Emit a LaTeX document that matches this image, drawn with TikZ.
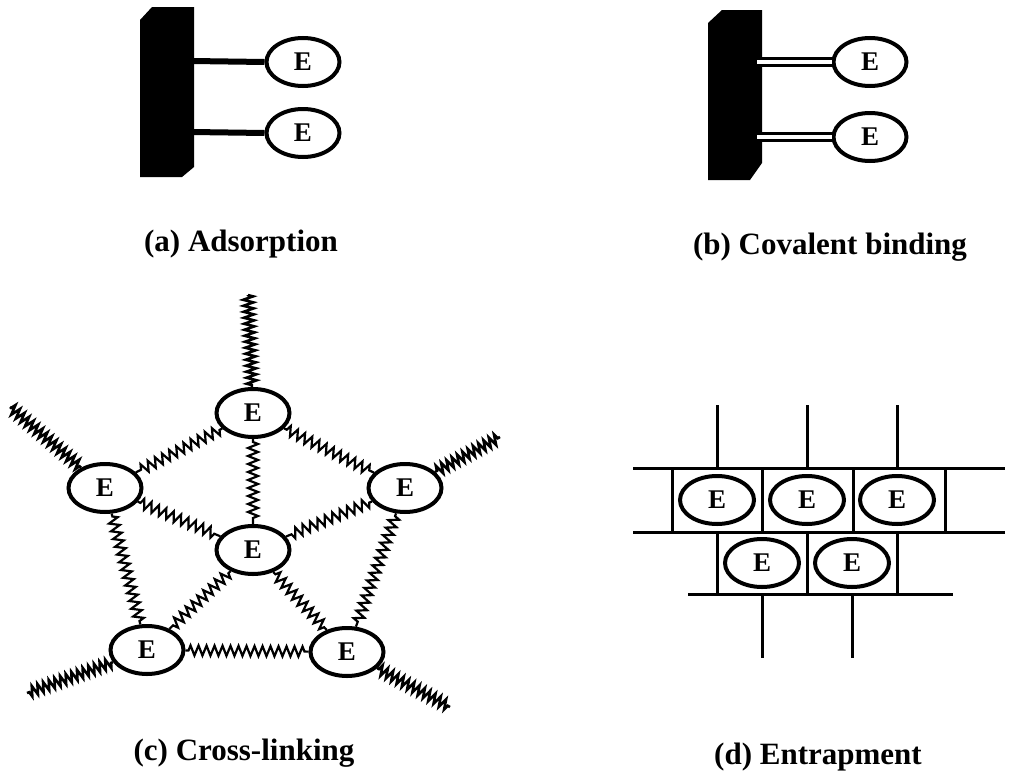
\documentclass[tikz,border=0pt]{standalone}
\usepackage{fontspec}
\setmainfont{Liberation Serif}
\usetikzlibrary{shapes.geometric,decorations.pathmorphing}
\tikzset{
  enz/.style={ellipse,draw,line width=4pt,minimum width=73pt,minimum height=48pt,inner sep=0pt,font=\bfseries\fontsize{27}{27}\selectfont},
  lab/.style={anchor=base,font=\bfseries\fontsize{31}{31}\selectfont},
  stick/.style={line width=6pt},
  cov/.style={draw=black,line width=3pt,double=white,double distance=4pt},
  spring/.style={line width=2.2pt,decorate,decoration={zigzag,segment length=8pt,amplitude=5pt,pre length=3pt,post length=3pt}},
  outspring/.style={line width=2.6pt,decorate,decoration={zigzag,segment length=6pt,amplitude=5pt,pre length=2pt,post length=0pt}},
  grid/.style={line width=3pt}
}
\begin{document}
\begin{tikzpicture}[x=1pt,y=-1pt]
\useasboundingbox (0,0) rectangle (1009,779);
% (a) Adsorption
\fill (140,20) -- (152,7) -- (194,7) -- (194,167) -- (182,177) -- (140,177) -- cycle;
\coordinate (a1) at (192,61);
\coordinate (a2) at (192,132);
\node[enz] (ea1) at (303,62) {E};
\node[enz] (ea2) at (303,133) {E};
\draw[stick] (a1) -- (ea1.west);
\draw[stick] (a2) -- (ea2.west);
\node[lab] (la) at (241,251) {(a) Adsorption};
% (b) Covalent binding
\fill (708,23) -- (722,10) -- (762,10) -- (762,163) -- (750,180) -- (708,180) -- cycle;
\coordinate (b1) at (757,62);
\coordinate (b2) at (757,137);
\node[enz] (eb1) at (870,62) {E};
\node[enz] (eb2) at (870,137) {E};
\draw[cov] (b1) -- (eb1.west);
\draw[cov] (b2) -- (eb2.west);
\node[lab] (lb) at (830,254) {(b) Covalent binding};
% (c) Cross-linking
\node[enz] (ct) at (253,413) {E};
\node[enz] (cl) at (105,488) {E};
\node[enz] (cr) at (405,488) {E};
\node[enz] (cc) at (253,550) {E};
\node[enz] (cbl) at (147,650) {E};
\node[enz] (cbr) at (347,652) {E};
\coordinate (ft) at (248,295);
\coordinate (fl) at (10,407);
\coordinate (fr) at (500,437);
\coordinate (fbl) at (27,693);
\coordinate (fbr) at (450,707);
\draw[outspring] (ct) -- (ft);
\draw[outspring] (cl) -- (fl);
\draw[outspring] (cr) -- (fr);
\draw[outspring] (cbl) -- (fbl);
\draw[outspring] (cbr) -- (fbr);
\draw[spring] (ct) -- (cl);
\draw[spring] (ct) -- (cr);
\draw[spring] (ct) -- (cc);
\draw[spring] (cl) -- (cc);
\draw[spring] (cr) -- (cc);
\draw[spring] (cl) -- (cbl);
\draw[spring] (cr) -- (cbr);
\draw[spring] (cc) -- (cbl);
\draw[spring] (cc) -- (cbr);
\draw[spring] (cbl) -- (cbr);
\node[lab] (lc) at (244,760) {(c) Cross-linking};
% (d) Entrapment
\draw[grid] (633,468) -- (1005,468);
\draw[grid] (633,532) -- (1005,532);
\draw[grid] (688,594) -- (953,594);
\foreach \x in {717,807,897} {\draw[grid] (\x,405) -- (\x,468); \draw[grid] (\x,532) -- (\x,594);}
\foreach \x in {672,762,853,945} {\draw[grid] (\x,468) -- (\x,532);}
\foreach \x in {762,852} {\draw[grid] (\x,594) -- (\x,658);}
\node[enz,minimum width=74pt,minimum height=48pt] (d1) at (717,500) {E};
\node[enz,minimum width=74pt,minimum height=48pt] (d2) at (807,500) {E};
\node[enz,minimum width=74pt,minimum height=48pt] (d3) at (897,500) {E};
\node[enz,minimum width=74pt,minimum height=48pt] (d4) at (762,563) {E};
\node[enz,minimum width=74pt,minimum height=48pt] (d5) at (852,563) {E};
\node[lab] (ld) at (818,764) {(d) Entrapment};
\end{tikzpicture}
\end{document}
